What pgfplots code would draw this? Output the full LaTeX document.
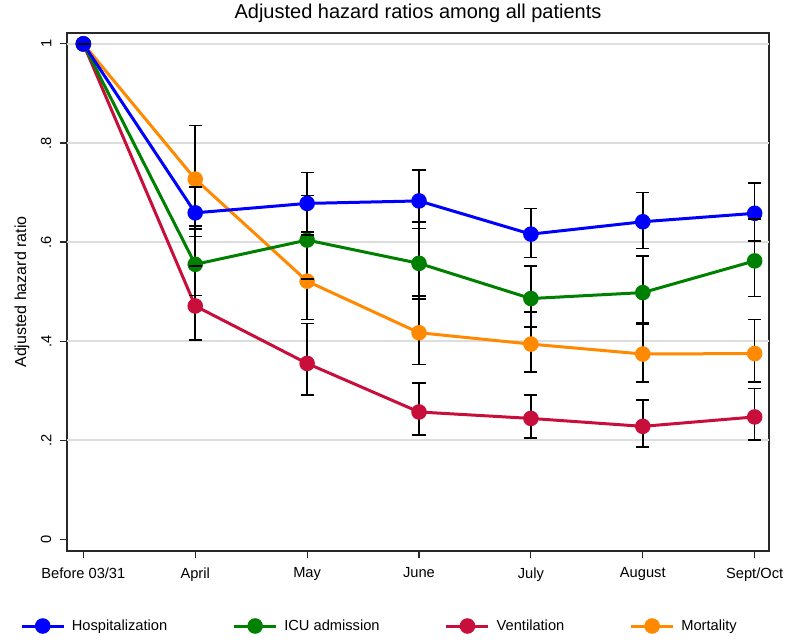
\documentclass[border=0pt]{standalone}
\usepackage{fontspec}
\setmainfont{Liberation Sans}
\usepackage{pgfplots}
\pgfplotsset{compat=1.18}
\definecolor{cblue}{RGB}{0,0,255}
\definecolor{cgreen}{RGB}{0,128,0}
\definecolor{cred}{RGB}{200,15,60}
\definecolor{corange}{RGB}{255,137,0}
\definecolor{gridgray}{RGB}{221,221,221}
\definecolor{framegray}{RGB}{40,40,40}
\begin{document}
\begin{tikzpicture}
\path[use as bounding box] (0,0) rectangle (589.5pt,481.5pt);
\begin{axis}[
  at={(50.25pt,68.25pt)}, anchor=south west,
  scale only axis, width=526.5pt, height=388.5pt,
  xmin=-0.146, xmax=6.128, ymin=-0.0236, ymax=1.022,
  axis line style={framegray, line width=0.9pt},
  tick style={framegray, line width=0.9pt},
  tick align=outside, major tick length=5.25pt, tick pos=left,
  xtick={0,1,2,3,4,5,6},
  xticklabels={Before 03/31,April,May,June,July,August,Sept/Oct},
  ytick={0,0.2,0.4,0.6,0.8,1},
  yticklabels={0,.2,.4,.6,.8,1},
  extra y ticks={0.2,0.4,0.6,0.8,1},
  extra y tick labels={},
  extra y tick style={grid=major, major tick length=0pt},
  grid style={gridgray, line width=1.1pt},
  ticklabel style={font=\fontsize{11}{13}\selectfont},
  xticklabel shift=3.5pt,
  yticklabel shift=3pt,
  yticklabel style={rotate=90, anchor=south},
  title={Adjusted hazard ratios among all patients},
  title style={at={(axis description cs:0.5,1)}, anchor=base, yshift=5pt, font=\fontsize{15}{18}\selectfont},
  ylabel={Adjusted hazard ratio},
  ylabel style={at={(axis description cs:-0.0641,0.5)}, anchor=center, font=\fontsize{12}{14}\selectfont},
  legend columns=4, reverse legend,
  legend style={at={(axis description cs:-0.0670,-0.1448)}, anchor=west, draw=none, fill=none, inner sep=0pt,
    font=\fontsize{11}{13}\selectfont,
    /tikz/every odd column/.append style={column sep=3pt},
    /tikz/every even column/.append style={column sep=47pt}},
  legend image code/.code={\draw[mark repeat=2,mark phase=2,#1] plot coordinates {(0pt,0pt)(15.75pt,0pt)(31.5pt,0pt)};},
  every axis plot/.append style={line width=2.25pt},
]
% Mortality
\addplot[corange, mark=*, mark size=4.7pt, mark options={draw=none, fill=corange}] coordinates {
 (0,1) (1,0.727) (2,0.521) (3,0.417) (4,0.394) (5,0.374) (6,0.375)};
\addlegendentry{Mortality}
% Ventilation
\addplot[cred, mark=*, mark size=4.7pt, mark options={draw=none, fill=cred}] coordinates {
 (0,1) (1,0.471) (2,0.355) (3,0.257) (4,0.244) (5,0.228) (6,0.247)};
\addlegendentry{Ventilation}
% ICU admission
\addplot[cgreen, mark=*, mark size=4.7pt, mark options={draw=none, fill=cgreen}] coordinates {
 (0,1) (1,0.555) (2,0.604) (3,0.557) (4,0.486) (5,0.498) (6,0.562)};
\addlegendentry{ICU admission}
% Hospitalization
\addplot[cblue, mark=*, mark size=4.7pt, mark options={draw=none, fill=cblue}] coordinates {
 (0,1) (1,0.659) (2,0.678) (3,0.683) (4,0.616) (5,0.641) (6,0.658)};
\addlegendentry{Hospitalization}
% confidence intervals
\pgfplotsset{cistyle/.style={black, line width=1.2pt, mark=-, mark size=4.9pt, mark options={solid, line width=1.2pt}, unbounded coords=jump, forget plot}}
\addplot[cistyle] coordinates {
 (0,1) (0,1) (0,nan)
 (1,0.611) (1,0.711) (1,nan) (2,0.620) (2,0.740) (2,nan) (3,0.627) (3,0.745) (3,nan)
 (4,0.569) (4,0.668) (4,nan) (5,0.587) (5,0.700) (5,nan) (6,0.602) (6,0.719)};
\addplot[cistyle] coordinates {
 (1,0.492) (1,0.626) (1,nan) (2,0.526) (2,0.694) (2,nan) (3,0.485) (3,0.641) (3,nan)
 (4,0.428) (4,0.552) (4,nan) (5,0.435) (5,0.572) (5,nan) (6,0.490) (6,0.646)};
\addplot[cistyle] coordinates {
 (1,0.402) (1,0.552) (1,nan) (2,0.291) (2,0.436) (2,nan) (3,0.210) (3,0.316) (3,nan)
 (4,0.205) (4,0.291) (4,nan) (5,0.186) (5,0.281) (5,nan) (6,0.200) (6,0.304)};
\addplot[cistyle] coordinates {
 (1,0.633) (1,0.835) (1,nan) (2,0.444) (2,0.614) (2,nan) (3,0.353) (3,0.491) (3,nan)
 (4,0.338) (4,0.459) (4,nan) (5,0.318) (5,0.438) (5,nan) (6,0.317) (6,0.444)};
\end{axis}
\end{tikzpicture}
\end{document}
